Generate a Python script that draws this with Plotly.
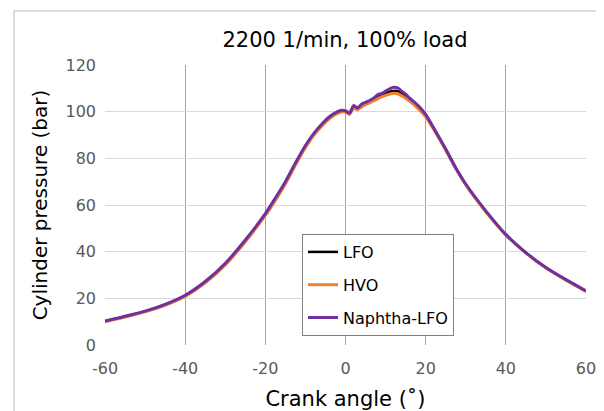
import plotly.graph_objects as go

# crank angle (deg) and cylinder pressure (bar)
crank_angle = [-60, -55, -50, -45, -40, -35, -30, -25, -20, -17.5, -15, -12.5, -10, -8, -6, -4, -2, -1,
               0, 1, 2, 3, 4, 5, 6, 7, 8, 9, 10, 11, 12, 13, 14, 15, 16, 18, 20,
               22.5, 25, 27.5, 30, 35, 40, 45, 50, 55, 60]

lfo = [10.2, 12.2, 14.4, 17.3, 21.1, 27.0, 34.7, 44.7, 56.0, 62.6, 69.5, 77.5, 85.0, 90.0, 94.0, 97.4, 99.6, 100.3,
       100.1, 99.1, 102.0, 101.2, 102.8, 103.6, 104.3, 105.2, 106.2, 107.0, 107.8, 108.5, 108.9, 108.8, 108.0, 106.8, 105.3, 102.2, 98.3,
       91.2, 83.7, 75.8, 68.8, 57.3, 47.3, 39.5, 33.1, 27.9, 23.1]

hvo = [10.0, 12.0, 14.2, 17.0, 20.8, 26.6, 34.3, 44.2, 55.5, 62.0, 69.0, 77.0, 84.5, 89.6, 93.6, 97.0, 99.2, 99.9,
       99.8, 98.8, 101.5, 100.8, 102.0, 103.0, 103.8, 104.6, 105.5, 106.3, 107.0, 107.6, 107.9, 107.7, 106.8, 105.8, 104.5, 101.5, 97.8,
       91.0, 83.5, 75.6, 68.6, 57.1, 47.1, 39.4, 33.0, 27.8, 23.0]

naphtha_lfo = [10.3, 12.3, 14.5, 17.4, 21.3, 27.2, 35.0, 45.0, 56.3, 63.0, 70.0, 78.0, 85.5, 90.5, 94.5, 97.8, 100.0, 100.6,
               100.4, 99.4, 102.6, 101.6, 103.2, 104.0, 104.8, 105.8, 107.2, 107.8, 108.8, 109.8, 110.5, 110.2, 108.8, 107.5, 105.8, 102.8, 98.8,
               91.5, 84.0, 76.0, 69.0, 57.5, 47.4, 39.6, 33.2, 28.0, 23.2]

x_ticks = [-60, -40, -20, 0, 20, 40, 60]
x_labels = ["-60", "-40", "-20", "0", "20", "40", "60"]
y_ticks = [0, 20, 40, 60, 80, 100, 120]

FONT = "DejaVu Sans"

fig = go.Figure()
fig.add_scatter(x=crank_angle, y=lfo, name="LFO", mode="lines", legendgroup="a",
                line=dict(color="#000000", width=2.5, shape="spline", smoothing=0.6))
fig.add_scatter(x=crank_angle, y=hvo, name="HVO", mode="lines", legendgroup="b",
                line=dict(color="#f08030", width=3, shape="spline", smoothing=0.6))
fig.add_scatter(x=crank_angle, y=naphtha_lfo, name="Naphtha-LFO", mode="lines", legendgroup="c",
                line=dict(color="#7030a0", width=3, shape="spline", smoothing=0.6))

# page is offset by 8px (body margin), so margins are shifted to compensate
L, T, W, H = 97, 57, 481, 280

# light outer chart frame: only its left and top edges fall inside the page
fx, fy = -91 / W, 334 / H
frame = dict(color="#d0d0d0", width=1.5)
fig.add_shape(type="line", xref="paper", yref="paper", x0=fx, x1=fx, y0=-0.5, y1=fy, line=frame)
fig.add_shape(type="line", xref="paper", yref="paper", x0=fx, x1=1.1, y0=fy, y1=fy, line=frame)

fig.update_layout(
    width=604, height=411,
    margin=dict(l=L, r=604 - L - W, t=T, b=411 - T - H, autoexpand=False),
    paper_bgcolor="white", plot_bgcolor="white",
    font=dict(family=FONT, color="#000000"),
    title=dict(text="2200 1/min, 100% load", x=(345 - 8) / 604, xanchor="center",
               y=1 - (40 - 8) / 411, yanchor="middle", font=dict(size=21, family=FONT)),
    showlegend=True,
    legend=dict(x=(302 - 105) / W, y=(345 - 234) / H, xanchor="left", yanchor="top",
                bgcolor="white", bordercolor="#808080", borderwidth=1,
                font=dict(size=16, family=FONT), tracegroupgap=9),
)
fig.update_xaxes(range=[-60, 60], tickvals=x_ticks, ticktext=x_labels, showgrid=True,
                 gridcolor="#a6a6a6", gridwidth=1, zeroline=False, showline=False, ticks="",
                 ticklabelstandoff=12,
                 tickfont=dict(size=16, color="#595959", family=FONT),
                 title=dict(text="Crank angle (˚)", font=dict(size=21, family=FONT), standoff=14))
fig.update_yaxes(range=[0, 120], tickvals=y_ticks, showgrid=True, gridcolor="#d9d9d9", gridwidth=1,
                 zeroline=False, showline=False, ticks="", ticklabelstandoff=8,
                 tickfont=dict(size=16, color="#595959", family=FONT),
                 title=dict(text="Cylinder pressure (bar)", font=dict(size=20, family=FONT), standoff=12))

fig.write_html("out.html")
